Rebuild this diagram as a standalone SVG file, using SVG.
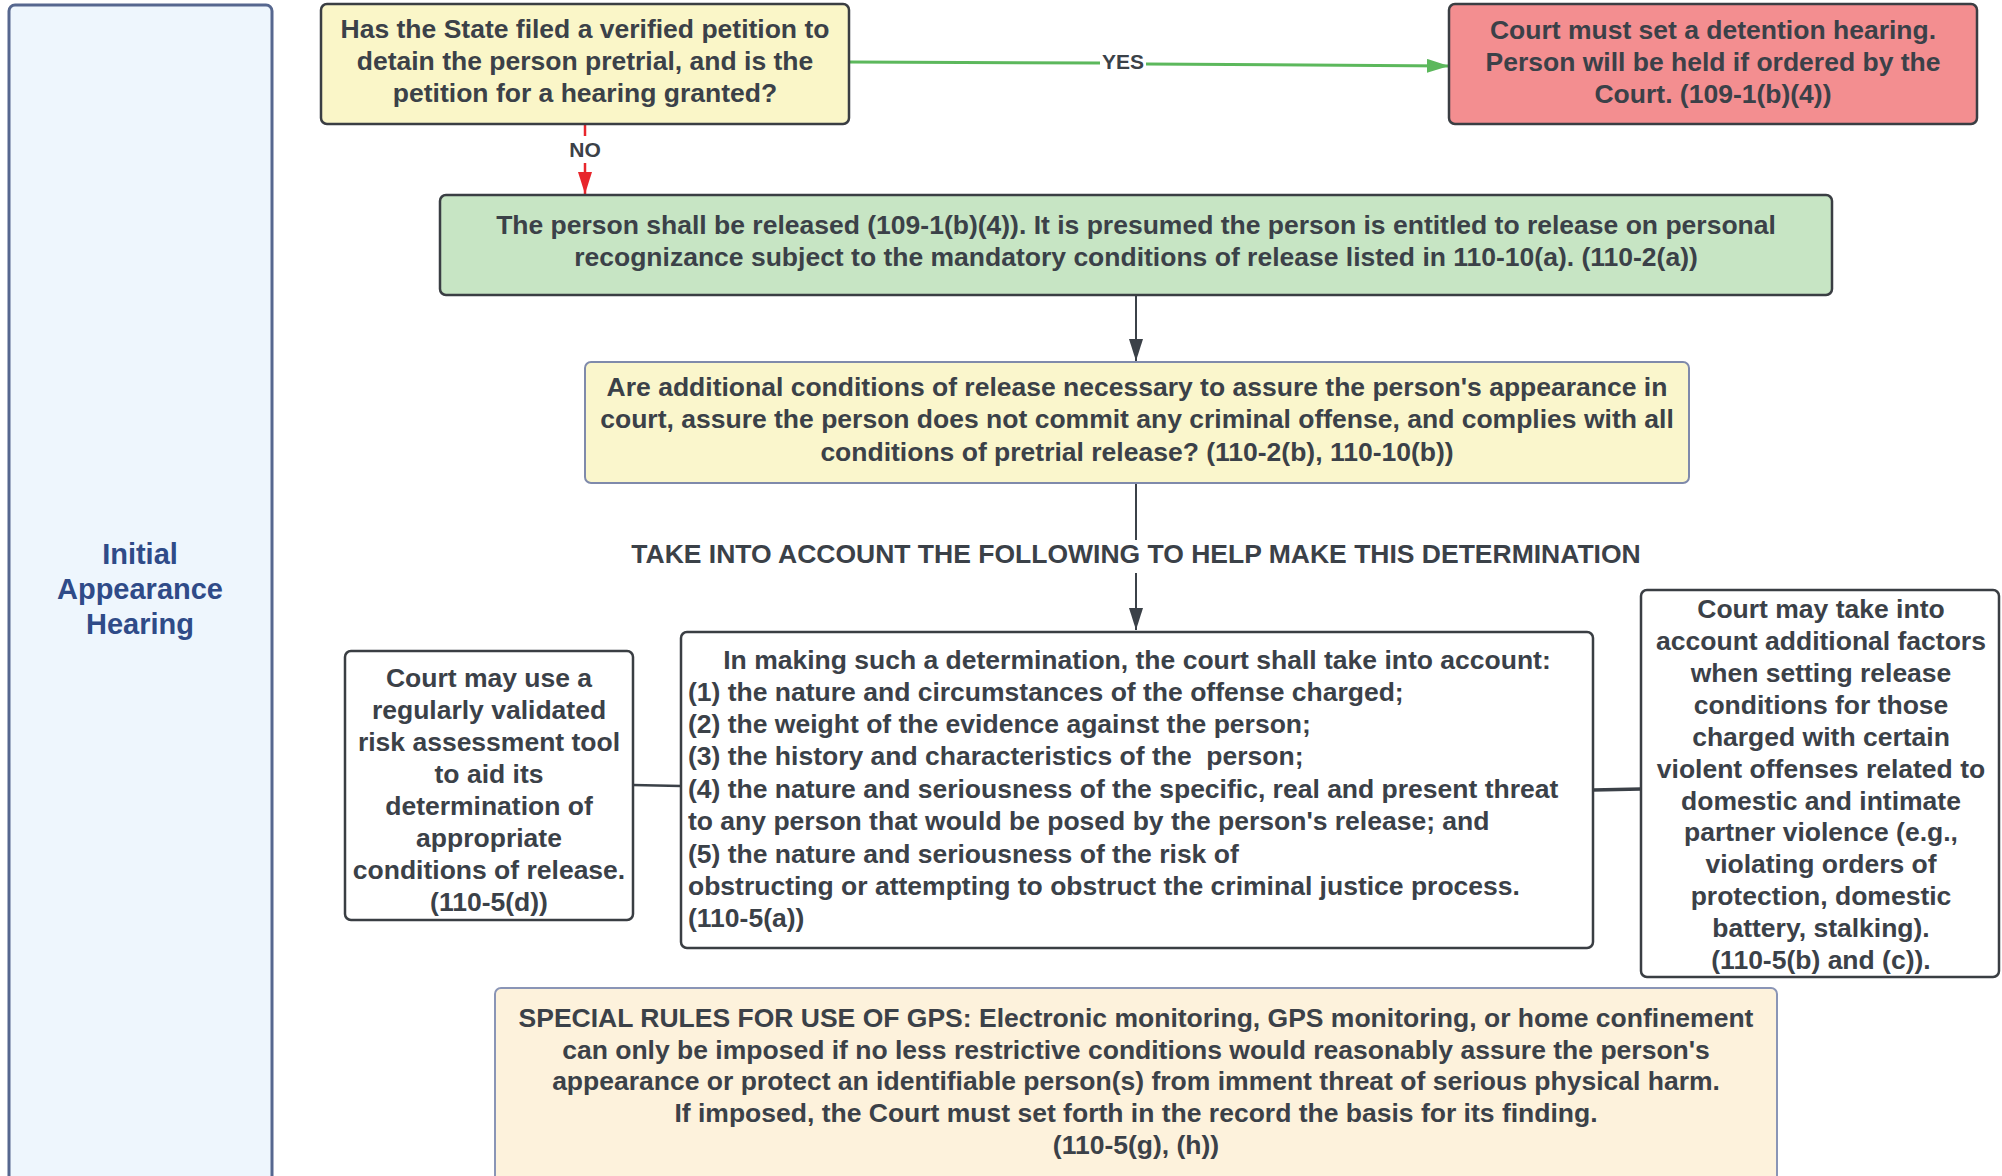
<svg xmlns="http://www.w3.org/2000/svg" width="2002" height="1176" viewBox="0 0 2002 1176">
<defs>
<style>
text{font-family:"Liberation Sans",Arial,sans-serif;font-weight:bold;font-size:26.5px;fill:#3b4148}
.c{text-anchor:middle}
.lbl{font-size:21px}
.lane{font-size:29px;fill:#2f4b88}
.box{stroke:#3a3e43;stroke-width:2.5}
</style>
<marker id="ag" viewBox="0 0 22 14" refX="22" refY="7" markerWidth="22" markerHeight="14" markerUnits="userSpaceOnUse" orient="auto"><path d="M0,0 L22,7 L0,14 z" fill="#5cb85c"/></marker>
<marker id="ar" viewBox="0 0 22 14" refX="22" refY="7" markerWidth="22" markerHeight="14" markerUnits="userSpaceOnUse" orient="auto"><path d="M0,0 L22,7 L0,14 z" fill="#e8262c"/></marker>
<marker id="ad" viewBox="0 0 22 14" refX="22" refY="7" markerWidth="22" markerHeight="14" markerUnits="userSpaceOnUse" orient="auto"><path d="M0,0 L22,7 L0,14 z" fill="#3b4148"/></marker>
</defs>
<rect width="2002" height="1176" fill="#ffffff"/>

<g id="lane">
<rect x="9" y="5" width="263" height="1190" rx="6" fill="#eef6fd" stroke="#56678f" stroke-width="3"/>
<text class="lane c" x="140" y="564">Initial</text>
<text class="lane c" x="140" y="599">Appearance</text>
<text class="lane c" x="140" y="634">Hearing</text>
</g>

<g id="connectors">
<path d="M849,62 L1100,63" stroke="#5cb85c" stroke-width="3" fill="none"/>
<path d="M1146,64 L1449,66" stroke="#5cb85c" stroke-width="3" fill="none" marker-end="url(#ag)"/>
<path d="M585,124 L585,136" stroke="#e8262c" stroke-width="2.5" fill="none"/>
<path d="M585,163 L585,194" stroke="#e8262c" stroke-width="2.5" fill="none" marker-end="url(#ar)"/>
<path d="M1136,295 L1136,361" stroke="#3b4148" stroke-width="2" fill="none" marker-end="url(#ad)"/>
<path d="M1136,483 L1136,540" stroke="#3b4148" stroke-width="2" fill="none"/>
<path d="M1136,573 L1136,630" stroke="#3b4148" stroke-width="2" fill="none" marker-end="url(#ad)"/>
<path d="M633,785 L681,786" stroke="#3b4148" stroke-width="2.5" fill="none"/>
<path d="M1593,790 L1641,789" stroke="#3b4148" stroke-width="3.5" fill="none"/>
<text class="lbl c" x="1123" y="69">YES</text>
<text class="lbl c" x="585" y="157">NO</text>
</g>

<g id="q1">
<rect class="box" x="321" y="4" width="528" height="120" rx="6" fill="#faf6c8"/>
<text class="c" x="585" y="38">Has the State filed a verified petition to</text>
<text class="c" x="585" y="70">detain the person pretrial, and is the</text>
<text class="c" x="585" y="102">petition for a hearing granted?</text>
</g>

<g id="detain">
<rect class="box" x="1449" y="4" width="528" height="120" rx="6" fill="#f38e90"/>
<text class="c" x="1713" y="39">Court must set a detention hearing.</text>
<text class="c" x="1713" y="71">Person will be held if ordered by the</text>
<text class="c" x="1713" y="103">Court. (109-1(b)(4))</text>
</g>

<g id="release">
<rect class="box" x="440" y="195" width="1392" height="100" rx="6" fill="#c7e5c4"/>
<text class="c" x="1136" y="234">The person shall be released (109-1(b)(4)). It is presumed the person is entitled to release on personal</text>
<text class="c" x="1136" y="266">recognizance subject to the mandatory conditions of release listed in 110-10(a). (110-2(a))</text>
</g>

<g id="q2">
<rect x="585" y="362" width="1104" height="121" rx="6" fill="#faf6cc" stroke="#7f8aab" stroke-width="2"/>
<text class="c" x="1137" y="396">Are additional conditions of release necessary to assure the person's appearance in</text>
<text class="c" x="1137" y="428">court, assure the person does not commit any criminal offense, and complies with all</text>
<text class="c" x="1137" y="461">conditions of pretrial release? (110-2(b), 110-10(b))</text>
</g>

<g id="take-note">
<text class="c" x="1136" y="563">TAKE INTO ACCOUNT THE FOLLOWING TO HELP MAKE THIS DETERMINATION</text>
</g>

<g id="factors">
<rect class="box" x="681" y="632" width="912" height="316" rx="6" fill="#ffffff"/>
<text class="c" x="1137" y="669">In making such a determination, the court shall take into account:</text>
<text x="688" y="701">(1) the nature and circumstances of the offense charged;</text>
<text x="688" y="733">(2) the weight of the evidence against the person;</text>
<text x="688" y="765" xml:space="preserve">(3) the history and characteristics of the  person;</text>
<text x="688" y="798">(4) the nature and seriousness of the specific, real and present threat</text>
<text x="688" y="830">to any person that would be posed by the person's release; and</text>
<text x="688" y="863">(5) the nature and seriousness of the risk of</text>
<text x="688" y="895">obstructing or attempting to obstruct the criminal justice process.</text>
<text x="688" y="927">(110-5(a))</text>
</g>

<g id="risk-tool">
<rect class="box" x="345" y="651" width="288" height="269" rx="6" fill="#ffffff"/>
<text class="c" x="489" y="687">Court may use a</text>
<text class="c" x="489" y="719">regularly validated</text>
<text class="c" x="489" y="751">risk assessment tool</text>
<text class="c" x="489" y="783">to aid its</text>
<text class="c" x="489" y="815">determination of</text>
<text class="c" x="489" y="847">appropriate</text>
<text class="c" x="489" y="879">conditions of release.</text>
<text class="c" x="489" y="911">(110-5(d))</text>
</g>

<g id="dv-factors">
<rect class="box" x="1641" y="590" width="358" height="387" rx="6" fill="#ffffff"/>
<text class="c" x="1821" y="618">Court may take into</text>
<text class="c" x="1821" y="650">account additional factors</text>
<text class="c" x="1821" y="682">when setting release</text>
<text class="c" x="1821" y="714">conditions for those</text>
<text class="c" x="1821" y="746">charged with certain</text>
<text class="c" x="1821" y="778">violent offenses related to</text>
<text class="c" x="1821" y="810">domestic and intimate</text>
<text class="c" x="1821" y="841">partner violence (e.g.,</text>
<text class="c" x="1821" y="873">violating orders of</text>
<text class="c" x="1821" y="905">protection, domestic</text>
<text class="c" x="1821" y="937">battery, stalking).</text>
<text class="c" x="1821" y="969">(110-5(b) and (c)).</text>
</g>

<g id="gps">
<rect x="495" y="988" width="1282" height="200" rx="6" fill="#fdf2dc" stroke="#8a95b6" stroke-width="2"/>
<text class="c" x="1136" y="1027">SPECIAL RULES FOR USE OF GPS: Electronic monitoring, GPS monitoring, or home confinement</text>
<text class="c" x="1136" y="1059">can only be imposed if no less restrictive conditions would reasonably assure the person's</text>
<text class="c" x="1136" y="1090">appearance or protect an identifiable person(s) from imment threat of serious physical harm.</text>
<text class="c" x="1136" y="1122">If imposed, the Court must set forth in the record the basis for its finding.</text>
<text class="c" x="1136" y="1154">(110-5(g), (h))</text>
</g>
</svg>
